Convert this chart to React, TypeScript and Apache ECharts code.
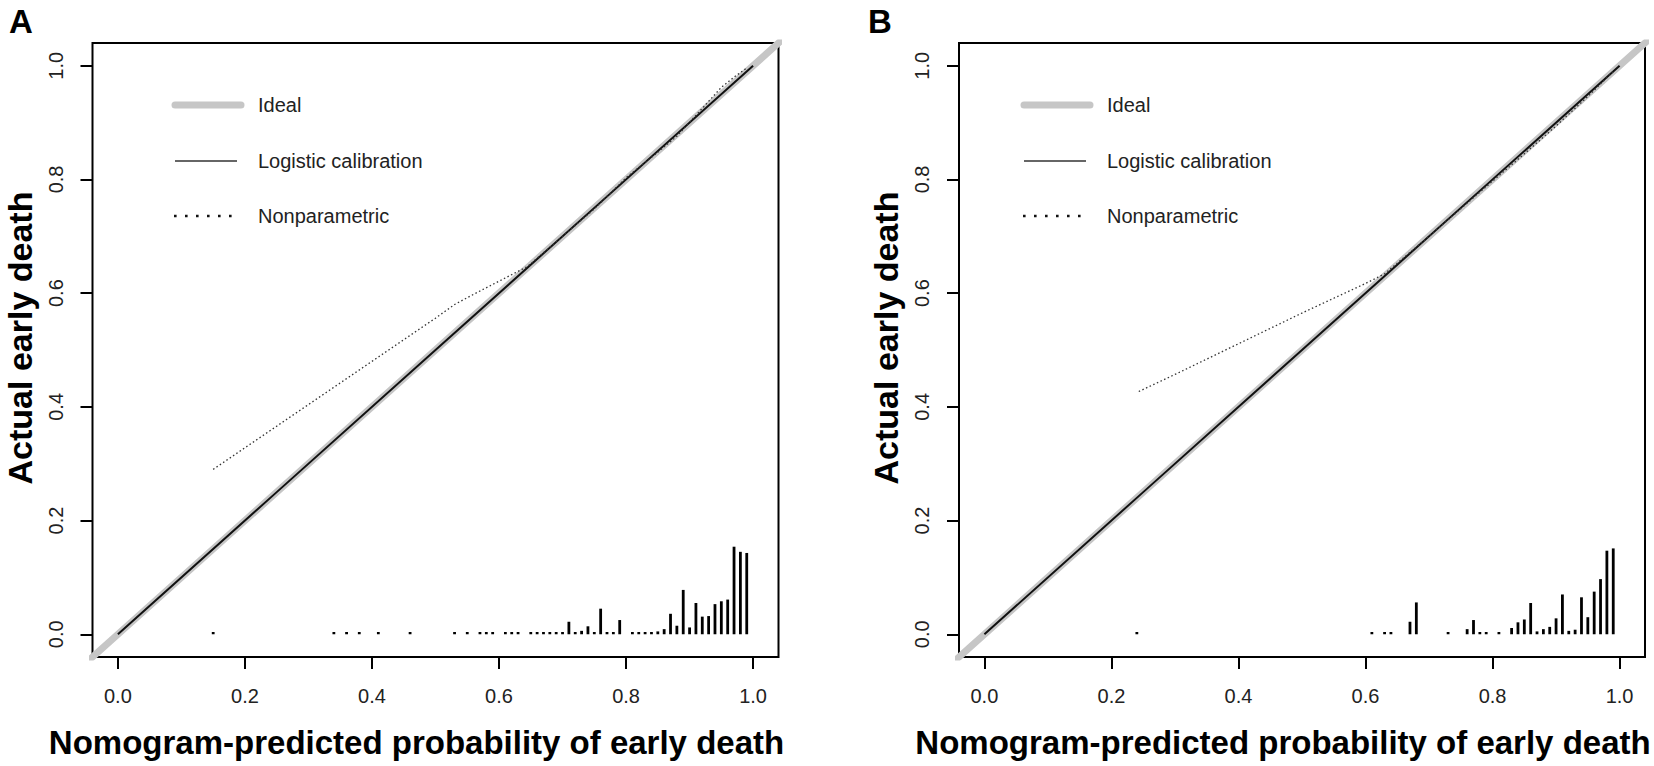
import React, { useEffect, useRef } from "react";
import * as echarts from "echarts";

// ---------- data ----------
const tickValues = [0, 0.2, 0.4, 0.6, 0.8, 1.0];
const panelLetters = ["A", "B"];
const xTitle = "Nomogram-predicted probability of early death";
const yTitle = "Actual early death";
const legendNames = ["Ideal", "Logistic calibration", "Nonparametric"];

const idealLine = [
  [-0.1, -0.1],
  [1.1, 1.1],
];

const logisticA = [
  [0, 0],
  [0.25, 0.25],
  [0.5, 0.5],
  [0.75, 0.75],
  [1, 1],
];
const logisticB = [
  [0, 0],
  [0.25, 0.25],
  [0.5, 0.5],
  [0.75, 0.75],
  [1, 1],
];

const nonparA = [
  [0.15, 0.29],
  [0.2, 0.328],
  [0.25, 0.366],
  [0.3, 0.404],
  [0.35, 0.442],
  [0.4, 0.48],
  [0.45, 0.518],
  [0.5, 0.556],
  [0.53, 0.58],
  [0.56, 0.598],
  [0.6, 0.621],
  [0.645, 0.647],
  [0.7, 0.7],
  [0.75, 0.748],
  [0.8, 0.803],
  [0.85, 0.848],
  [0.88, 0.876],
  [0.92, 0.925],
  [0.95, 0.962],
  [0.97, 0.98],
  [0.99, 0.996],
];
const nonparB = [
  [0.243, 0.427],
  [0.3, 0.457],
  [0.35, 0.484],
  [0.4, 0.511],
  [0.45, 0.538],
  [0.5, 0.565],
  [0.55, 0.591],
  [0.6, 0.617],
  [0.63, 0.634],
  [0.7, 0.7],
  [0.8, 0.797],
  [0.85, 0.845],
  [0.9, 0.894],
  [0.95, 0.946],
  [0.99, 0.99],
];

const spikeXA = [
  0.15, 0.34, 0.36, 0.38, 0.41, 0.46, 0.53, 0.55, 0.57, 0.58, 0.59, 0.61, 0.62, 0.63, 0.65, 0.66, 0.67,
  0.68, 0.69, 0.7, 0.71, 0.72, 0.73, 0.74, 0.75, 0.76, 0.77, 0.78, 0.79, 0.81, 0.82, 0.83, 0.84, 0.85,
  0.86, 0.87, 0.88, 0.89, 0.9, 0.91, 0.92, 0.93, 0.94, 0.95, 0.96, 0.97, 0.98, 0.99,
];
const spikeHA = [
  0.004, 0.004, 0.004, 0.004, 0.004, 0.004, 0.004, 0.004, 0.004, 0.004, 0.004, 0.004, 0.004, 0.004,
  0.004, 0.004, 0.004, 0.004, 0.004, 0.004, 0.022, 0.004, 0.006, 0.014, 0.004, 0.045, 0.004, 0.004,
  0.025, 0.004, 0.004, 0.004, 0.004, 0.005, 0.009, 0.036, 0.015, 0.078, 0.012, 0.055, 0.031, 0.032,
  0.053, 0.058, 0.061, 0.154, 0.145, 0.143,
];

const spikeXB = [
  0.24, 0.61, 0.63, 0.64, 0.67, 0.68, 0.73, 0.76, 0.77, 0.78, 0.79, 0.81, 0.83, 0.84, 0.85, 0.86, 0.87,
  0.88, 0.89, 0.9, 0.91, 0.92, 0.93, 0.94, 0.95, 0.96, 0.97, 0.98, 0.99,
];
const spikeHB = [
  0.004, 0.004, 0.004, 0.004, 0.022, 0.056, 0.004, 0.009, 0.025, 0.004, 0.004, 0.004, 0.011, 0.021,
  0.026, 0.055, 0.005, 0.009, 0.013, 0.028, 0.07, 0.006, 0.008, 0.065, 0.03, 0.075, 0.097, 0.147, 0.151,
];

// ---------- layout / style ----------
const FONT = '"Liberation Sans", Arial, Helvetica, sans-serif';
const GRID_LEFT = [92.5, 959];
const GRID_TOP = 43;
const GRID_W = 686;
const GRID_H = 614;
const LEGEND_X = [175, 1024];
const LEGEND_Y = [105, 161, 216];
const LETTER_POS = [
  [21, 21],
  [880, 21],
];
const GRAY = "#c6c6c6";

function buildOption() {
  const grids: any[] = [];
  const xAxes: any[] = [];
  const yAxes: any[] = [];
  const series: any[] = [];
  const graphics: any[] = [];

  const panels = [
    { logistic: logisticA, nonpar: nonparA, sx: spikeXA, sh: spikeHA },
    { logistic: logisticB, nonpar: nonparB, sx: spikeXB, sh: spikeHB },
  ];

  panels.forEach((p, i) => {
    grids.push({
      left: GRID_LEFT[i],
      top: GRID_TOP,
      width: GRID_W,
      height: GRID_H,
      show: true,
      borderColor: "#000",
      borderWidth: 2,
      backgroundColor: "transparent",
      containLabel: false,
      outerBoundsMode: "none",
    });
    xAxes.push({
      type: "value",
      gridIndex: i,
      min: -0.04,
      max: 1.04,
      axisLine: { show: false, onZero: false },
      splitLine: { show: false },
      axisTick: {
        show: true,
        length: 12,
        customValues: tickValues,
        lineStyle: { color: "#000", width: 2 },
      },
      axisLabel: {
        show: true,
        customValues: tickValues,
        formatter: (v: number) => v.toFixed(1),
        margin: 29,
        fontSize: 20,
        color: "#222",
        fontFamily: FONT,
      },
      name: xTitle,
      nameLocation: "middle",
      nameGap: 69,
      nameTextStyle: {
        fontSize: 33,
        fontWeight: "bold",
        color: "#000",
        fontFamily: FONT,
        padding: [0, 38, 0, 0],
      },
    });
    yAxes.push({
      type: "value",
      gridIndex: i,
      min: -0.04,
      max: 1.04,
      axisLine: { show: false, onZero: false },
      splitLine: { show: false },
      axisTick: {
        show: true,
        length: 12,
        customValues: tickValues,
        lineStyle: { color: "#000", width: 2 },
      },
      axisLabel: {
        show: true,
        customValues: tickValues,
        formatter: (v: number) => v.toFixed(1),
        rotate: 90,
        margin: 27,
        fontSize: 20,
        color: "#222",
        fontFamily: FONT,
      },
      name: yTitle,
      nameLocation: "middle",
      nameRotate: 90,
      nameGap: 56,
      nameTextStyle: {
        fontSize: 34,
        fontWeight: "bold",
        color: "#000",
        fontFamily: FONT,
        padding: [0, 0, 0, 24],
      },
    });

    series.push({
      name: legendNames[0],
      type: "line",
      xAxisIndex: i,
      yAxisIndex: i,
      data: idealLine,
      symbol: "none",
      clip: true,
      silent: true,
      z: 1,
      lineStyle: { color: GRAY, width: 7, cap: "round" },
    });
    series.push({
      name: legendNames[1],
      type: "line",
      xAxisIndex: i,
      yAxisIndex: i,
      data: p.logistic,
      symbol: "none",
      clip: true,
      silent: true,
      z: 3,
      lineStyle: { color: "#111", width: 2 },
    });
    series.push({
      name: legendNames[2],
      type: "line",
      xAxisIndex: i,
      yAxisIndex: i,
      data: p.nonpar,
      symbol: "none",
      clip: true,
      silent: true,
      z: 4,
      lineStyle: { color: "#333", width: 1.3, type: [1.5, 2.5] },
    });
    series.push({
      name: "spikes" + i,
      type: "bar",
      xAxisIndex: i,
      yAxisIndex: i,
      data: p.sx.map((x, k) => [x, p.sh[k]]),
      barWidth: 2.8,
      silent: true,
      z: 2,
      itemStyle: { color: "#000" },
    });

    // legend (drawn like R's legend())
    const lx = LEGEND_X[i];
    graphics.push({
      type: "line",
      shape: { x1: lx, y1: LEGEND_Y[0], x2: lx + 66, y2: LEGEND_Y[0] },
      style: { stroke: GRAY, lineWidth: 7, lineCap: "round" },
    });
    graphics.push({
      type: "line",
      shape: { x1: lx, y1: LEGEND_Y[1], x2: lx + 62, y2: LEGEND_Y[1] },
      style: { stroke: "#333", lineWidth: 1.6 },
    });
    graphics.push({
      type: "line",
      shape: { x1: lx - 1, y1: LEGEND_Y[2], x2: lx + 58, y2: LEGEND_Y[2] },
      style: { stroke: "#111", lineWidth: 2.6, lineDash: [2.6, 8.4] },
    });
    legendNames.forEach((n, k) => {
      graphics.push({
        type: "text",
        x: lx + 83,
        y: LEGEND_Y[k],
        style: {
          text: n,
          fontSize: 20,
          fontFamily: FONT,
          fill: "#222",
          align: "left",
          verticalAlign: "middle",
        },
      });
    });
    graphics.push({
      type: "text",
      x: LETTER_POS[i][0],
      y: LETTER_POS[i][1],
      style: {
        text: panelLetters[i],
        fontSize: 33,
        fontFamily: FONT,
        fontWeight: "bold",
        fill: "#000",
        align: "center",
        verticalAlign: "middle",
      },
    });
  });

  return {
    animation: false,
    backgroundColor: "#fff",
    grid: grids,
    xAxis: xAxes,
    yAxis: yAxes,
    series,
    graphic: graphics,
  };
}

export default function App() {
  const ref = useRef<HTMLDivElement>(null);
  useEffect(() => {
    document.body.style.margin = "0";
    const chart = echarts.init(ref.current!, null, { renderer: "svg" });
    chart.setOption(buildOption() as any);
    return () => chart.dispose();
  }, []);
  return <div ref={ref} style={{ width: 1654, height: 766, background: "#fff" }} />;
}
